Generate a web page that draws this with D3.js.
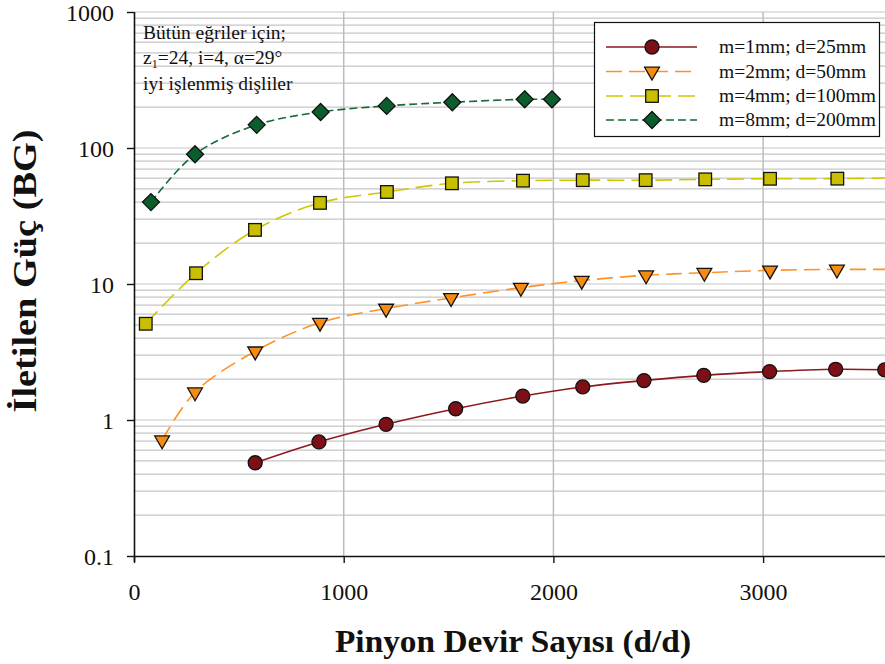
<!DOCTYPE html>
<html>
<head>
<meta charset="utf-8">
<script src="https://cdn.jsdelivr.net/npm/d3@7/dist/d3.min.js"></script>
<style>
  html, body { margin: 0; padding: 0; background: #fff; overflow: hidden; }
  svg { display: block; }
  text { font-family: "Liberation Serif", "Times New Roman", serif; fill: #111; }
</style>
</head>
<body>
<svg id="chart" width="885" height="664"></svg>
<script>
// Pinion speed (d/d) and transmitted power (BG) for each gear module
const rpmM1 = [578, 882, 1202, 1534, 1854, 2140, 2432, 2717, 3031, 3346, 3580];
const powM1 = [0.485, 0.69, 0.93, 1.21, 1.50, 1.75, 1.95, 2.13, 2.27, 2.36, 2.34];

const rpmM2 = [134, 291, 578, 887, 1202, 1512, 1845, 2135, 2442, 2720, 3033, 3352, 3660];
const powM2 = [0.71, 1.6, 3.2, 5.2, 6.6, 7.9, 9.4, 10.6, 11.6, 12.1, 12.6, 12.8, 12.8];

const rpmM4 = [56, 296, 577, 887, 1206, 1516, 1855, 2140, 2440, 2724, 3033, 3354, 3660];
const powM4 = [5.1, 12, 25, 39.5, 47.5, 55, 57.5, 58, 58, 58.8, 59.4, 59.5, 60.5];

const rpmM8 = [81, 291, 585, 890, 1205, 1518, 1863, 1993];
const powM8 = [40, 90, 148, 184, 204, 217, 228, 228];

const seriesNames = ["m=1mm; d=25mm", "m=2mm; d=50mm", "m=4mm; d=100mm", "m=8mm; d=200mm"];

const xTicks = [0, 1000, 2000, 3000];
const yTicks = [0.1, 1, 10, 100, 1000];
const yTickLabels = ["0.1", "1", "10", "100", "1000"];

const svg = d3.select("#chart");
const L = 134, T = 12, B = 556;

// the plot runs past the right edge of the page; everything beyond is cut off
const x = d3.scaleLinear().domain([0, 4000]).range([L, L + 4000 * 0.2097]);
const y = d3.scaleLog().domain([0.1, 1000]).range([B, T]);

// horizontal grid: every 1..9 step of each decade
const gridVals = [];
for (let e = -1; e < 3; e++) {
  for (let k = 1; k <= 9; k++) gridVals.push(k * Math.pow(10, e));
}
gridVals.push(1000);

const g = svg.append("g");
g.selectAll("line.hg").data(gridVals.filter(v => v > 0.1)).join("line")
  .attr("x1", L).attr("x2", 885)
  .attr("y1", d => y(d)).attr("y2", d => y(d))
  .attr("stroke", "#c6c6c6").attr("stroke-width", 1.2);

g.selectAll("line.vg").data(xTicks.filter(v => v > 0)).join("line")
  .attr("x1", d => x(d)).attr("x2", d => x(d))
  .attr("y1", T).attr("y2", B)
  .attr("stroke", "#bdbdbd").attr("stroke-width", 1.5);

// axes
const xAxis = d3.axisBottom(x).tickValues(xTicks).tickSize(7).tickFormat(d3.format("d"));
const yAxis = d3.axisLeft(y).tickValues(yTicks).tickSize(7).tickFormat((d, i) => yTickLabels[i]);

const gx = svg.append("g").attr("transform", `translate(0,${B})`).call(xAxis);
gx.select(".domain").attr("d", `M${L},0.5H${x(4000)}`).attr("stroke", "#111").attr("stroke-width", 1.6);
gx.selectAll(".tick line").attr("stroke", "#111").attr("stroke-width", 1.4);
gx.selectAll(".tick text").attr("font-size", 24).attr("dy", 0).attr("y", 44)
  .attr("font-family", "Liberation Serif, serif").attr("fill", "#111");

const gy = svg.append("g").attr("transform", `translate(${L},0)`).call(yAxis);
gy.select(".domain").attr("d", `M0.5,${T}V${B + 6}`).attr("stroke", "#111").attr("stroke-width", 1.6);
gy.selectAll(".tick line").attr("stroke", "#111").attr("stroke-width", 1.4);
gy.selectAll(".tick text").attr("font-size", 24).attr("x", -20).attr("dy", "0.34em")
  .attr("font-family", "Liberation Serif, serif").attr("fill", "#111");

// axis titles
svg.append("text")
  .attr("x", 513).attr("y", 652)
  .attr("text-anchor", "middle")
  .attr("font-size", 31).attr("font-weight", "bold")
  .attr("textLength", 356).attr("lengthAdjust", "spacingAndGlyphs")
  .text("Pinyon Devir Sayısı (d/d)");

svg.append("text")
  .attr("transform", "translate(36,271) rotate(-90)")
  .attr("text-anchor", "middle")
  .attr("font-size", 33).attr("font-weight", "bold")
  .attr("textLength", 283).attr("lengthAdjust", "spacingAndGlyphs")
  .text("İletilen Güç (BG)");

// series styling
const series = [
  { rpm: rpmM1, pow: powM1, line: "#8b1a1f", fill: "#7d1016", dash: null, sym: "circle" },
  { rpm: rpmM2, pow: powM2, line: "#ff9125", fill: "#f68b12", dash: "16,7", sym: "triangle" },
  { rpm: rpmM4, pow: powM4, line: "#cfc800", fill: "#c9bf00", dash: "17,7", sym: "square" },
  { rpm: rpmM8, pow: powM8, line: "#17693a", fill: "#0b5d2c", dash: "8,4", sym: "diamond" }
];

const lineGen = d3.line().x(d => x(d[0])).y(d => y(d[1])).curve(d3.curveCatmullRom.alpha(0.5));

function drawMarker(sel, sym, fill) {
  if (sym === "circle") {
    sel.append("circle").attr("r", 7);
  } else if (sym === "triangle") {
    sel.append("path").attr("d", d3.symbol(d3.symbolTriangle, 95)()).attr("transform", "rotate(180)");
  } else if (sym === "square") {
    sel.append("rect").attr("x", -6.3).attr("y", -6.3).attr("width", 12.6).attr("height", 12.6);
  } else {
    sel.append("path").attr("d", "M0,-8.5L8.5,0L0,8.5L-8.5,0Z");
  }
  sel.selectAll("*").attr("fill", fill).attr("stroke", "#111").attr("stroke-width", 1.3);
}

const plot = svg.append("g");
series.forEach(s => {
  const pts = s.rpm.map((r, i) => [r, s.pow[i]]);
  plot.append("path").datum(pts)
    .attr("d", lineGen)
    .attr("fill", "none")
    .attr("stroke", s.line)
    .attr("stroke-width", 1.6)
    .attr("stroke-dasharray", s.dash);
});
series.forEach(s => {
  const pts = s.rpm.map((r, i) => [r, s.pow[i]]);
  plot.selectAll(null).data(pts).join("g")
    .attr("transform", d => `translate(${x(d[0])},${y(d[1])})`)
    .each(function () { drawMarker(d3.select(this), s.sym, s.fill); });
});

// annotation
const note = svg.append("g").attr("font-size", 19.5);
note.append("text").attr("x", 143).attr("y", 39).text("Bütün eğriler için;");
const t2 = note.append("text").attr("x", 143).attr("y", 64);
t2.append("tspan").text("z");
t2.append("tspan").attr("font-size", 12).attr("dy", 4).text("1");
t2.append("tspan").attr("dy", -4).text("=24, i=4, α=29°");
note.append("text").attr("x", 143).attr("y", 90).text("iyi işlenmiş dişliler");

// legend
const lg = svg.append("g");
lg.append("rect").attr("x", 594.5).attr("y", 22.5).attr("width", 285).attr("height", 114)
  .attr("fill", "#fff").attr("stroke", "#111").attr("stroke-width", 1.2);
const rowY = [47, 71.5, 96, 120];
series.forEach((s, i) => {
  const row = lg.append("g").attr("transform", `translate(0,${rowY[i]})`);
  row.append("line").attr("x1", 606).attr("x2", 697).attr("y1", 0).attr("y2", 0)
    .attr("stroke", s.line).attr("stroke-width", 1.6).attr("stroke-dasharray", s.dash);
  const m = row.append("g").attr("transform", "translate(652,0)");
  drawMarker(m, s.sym, s.fill);
  row.append("text").attr("x", 719).attr("y", 0).attr("dy", "0.33em")
    .attr("font-size", 19.5).text(seriesNames[i]);
});
</script>
</body>
</html>
